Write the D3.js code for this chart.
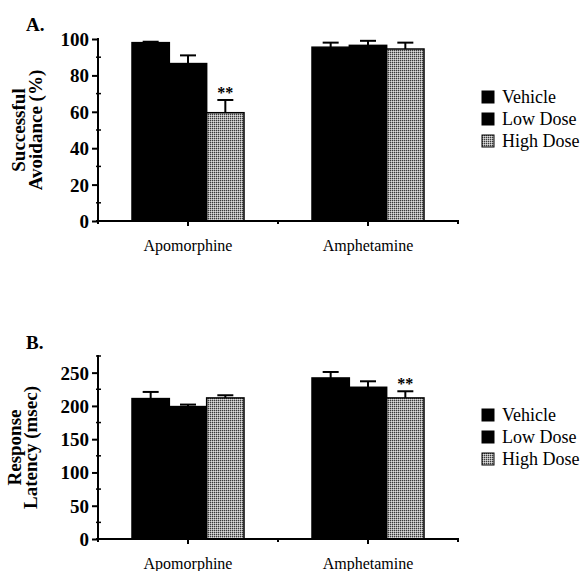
<!DOCTYPE html>
<html>
<head>
<meta charset="utf-8">
<script src="https://cdn.jsdelivr.net/npm/d3@7"></script>
<style>
body { margin: 0; background: #fff; }
svg { display: block; }
</style>
</head>
<body>
<svg id="svg"></svg>
<script>
var groups = ["Apomorphine", "Amphetamine"];
var doses = ["Vehicle", "Low Dose", "High Dose"];

// panel A: successful avoidance (%)
var avoidApo = [98, 86.5, 59.5];
var avoidApoErr = [0.5, 4.5, 7];
var avoidAmph = [95.5, 96.5, 94.5];
var avoidAmphErr = [2.5, 2.5, 3.5];
var avoidTicks = [0, 20, 40, 60, 80, 100];
var avoidMinor = [10, 30, 50, 70, 90];

// panel B: response latency (msec)
var latApo = [211, 199, 212];
var latApoErr = [10, 3, 4];
var latAmph = [242, 228, 212];
var latAmphErr = [9, 9, 10];
var latTicks = [0, 50, 100, 150, 200, 250];
var latMinor = [25, 75, 125, 175, 225, 275];

var width = 587, height = 571;
var svg = d3.select("#svg").attr("width", width).attr("height", height);

var defs = svg.append("defs");
var pat = defs.append("pattern").attr("id", "stipple")
    .attr("width", 2).attr("height", 2).attr("patternUnits", "userSpaceOnUse");
pat.append("rect").attr("width", 2).attr("height", 2).attr("fill", "#a8a8a8");
pat.append("rect").attr("width", 1).attr("height", 1).attr("fill", "#3a3a3a");
pat.append("rect").attr("x", 1).attr("y", 1).attr("width", 1).attr("height", 1).attr("fill", "#dcdcdc");

var fills = ["#000", "#000", "url(#stipple)"];
var serif = "'Liberation Serif', 'Times New Roman', serif";

function drawPanel(p)
{
    var g = svg.append("g");
    var y = d3.scaleLinear().domain(p.domain).range([p.y0, p.yTop]);
    var x = d3.scaleBand().domain(groups).range([98, 458]).padding(0);
    var inner = d3.scaleBand().domain(doses).range([-56, 56]).padding(0);

    // bars
    var rows = [];
    groups.forEach(function(grp, gi) {
        doses.forEach(function(d, di) {
            rows.push({grp: grp, dose: d, di: di, v: p.values[gi][di], e: p.errs[gi][di]});
        });
    });
    g.selectAll("rect.bar").data(rows).enter().append("rect")
        .attr("class", "bar")
        .attr("x", function(r) { return x(r.grp) + x.bandwidth() / 2 + inner(r.dose); })
        .attr("y", function(r) { return y(r.v); })
        .attr("width", inner.bandwidth())
        .attr("height", function(r) { return y(0) - y(r.v); })
        .attr("fill", function(r) { return fills[r.di]; })
        .attr("stroke", "#000").attr("stroke-width", 1.5);

    // error bars (upper only)
    var eb = g.selectAll("g.err").data(rows).enter().append("g")
        .attr("transform", function(r) {
            return "translate(" + (x(r.grp) + x.bandwidth() / 2 + inner(r.dose) + inner.bandwidth() / 2) + ",0)";
        });
    eb.append("line").attr("y1", function(r) { return y(r.v); })
        .attr("y2", function(r) { return y(r.v + r.e); })
        .attr("stroke", "#000").attr("stroke-width", 2);
    eb.append("line").attr("x1", -8).attr("x2", 8)
        .attr("y1", function(r) { return y(r.v + r.e); })
        .attr("y2", function(r) { return y(r.v + r.e); })
        .attr("stroke", "#000").attr("stroke-width", 2);

    // significance
    p.stars.forEach(function(s) {
        var gi = groups.indexOf(s[0]), di = doses.indexOf(s[1]);
        g.append("text")
            .attr("x", x(s[0]) + x.bandwidth() / 2 + inner(s[1]) + inner.bandwidth() / 2)
            .attr("y", y(p.values[gi][di] + p.errs[gi][di]) - 2)
            .attr("text-anchor", "middle")
            .attr("font-family", serif).attr("font-weight", "bold").attr("font-size", 16)
            .text("**");
    });

    // y axis
    var yAxis = g.append("g").attr("transform", "translate(98,0)")
        .call(d3.axisLeft(y).tickValues(p.ticks).tickSize(6).tickPadding(3));
    yAxis.select(".domain").remove();
    yAxis.selectAll(".tick line").attr("stroke-width", 2);
    yAxis.selectAll("text").attr("font-family", serif).attr("font-weight", "bold")
        .attr("font-size", 19).attr("dy", "0.34em");
    g.selectAll("line.minor").data(p.minor).enter().append("line")
        .attr("x1", 96).attr("x2", 101)
        .attr("y1", function(v) { return y(v); }).attr("y2", function(v) { return y(v); })
        .attr("stroke", "#000").attr("stroke-width", 1.5);
    g.append("line").attr("x1", 98).attr("x2", 98)
        .attr("y1", y(0) + 3).attr("y2", y(p.domain[1]) - 1)
        .attr("stroke", "#000").attr("stroke-width", 2);

    // x axis
    var xAxis = g.append("g").attr("transform", "translate(0," + y(0) + ")")
        .call(d3.axisBottom(x).tickSize(5).tickPadding(14));
    xAxis.select(".domain").remove();
    xAxis.selectAll(".tick line").attr("stroke-width", 2);
    xAxis.selectAll("text").attr("font-family", serif).attr("font-size", 16);
    g.append("line").attr("x1", 96).attr("x2", 459)
        .attr("y1", y(0)).attr("y2", y(0))
        .attr("stroke", "#000").attr("stroke-width", 2);
    g.selectAll("line.xminor").data(groups).enter().append("line")
        .attr("x1", function(grp) { return x(grp) + x.bandwidth(); })
        .attr("x2", function(grp) { return x(grp) + x.bandwidth(); })
        .attr("y1", y(0)).attr("y2", y(0) + 3)
        .attr("stroke", "#000").attr("stroke-width", 2);

    // panel letter
    g.append("text").attr("x", 26).attr("y", p.letterY)
        .attr("font-family", serif).attr("font-weight", "bold").attr("font-size", 19)
        .text(p.letter);

    // y title, two rotated lines
    var mid = (p.y0 + p.yTop) / 2;
    p.title.forEach(function(t, i) {
        g.append("text")
            .attr("transform", "translate(" + p.titleX[i] + "," + mid + ") rotate(-90)")
            .attr("text-anchor", "middle")
            .attr("font-family", serif).attr("font-weight", "bold").attr("font-size", 19)
            .text(t);
    });

    // legend
    var lg = g.selectAll("g.leg").data(doses).enter().append("g")
        .attr("transform", function(d, i) { return "translate(482," + (p.legendY + i * 22) + ")"; });
    lg.append("rect").attr("x", 0).attr("y", -6).attr("width", 12).attr("height", 12)
        .attr("fill", function(d, i) { return fills[i]; })
        .attr("stroke", "#000").attr("stroke-width", 1);
    lg.append("text").attr("x", 20).attr("y", 0).attr("dy", "0.35em")
        .attr("font-family", serif).attr("font-size", 18)
        .text(function(d) { return d; });
}

drawPanel({
    domain: [0, 100], y0: 221, yTop: 39,
    values: [avoidApo, avoidAmph], errs: [avoidApoErr, avoidAmphErr],
    ticks: avoidTicks, minor: avoidMinor,
    stars: [["Apomorphine", "High Dose"]],
    letter: "A.", letterY: 31,
    title: ["Successful", "Avoidance (%)"], titleX: [25, 42],
    legendY: 97
});

drawPanel({
    domain: [0, 275], y0: 539, yTop: 356,
    values: [latApo, latAmph], errs: [latApoErr, latAmphErr],
    ticks: latTicks, minor: latMinor,
    stars: [["Amphetamine", "High Dose"]],
    letter: "B.", letterY: 349,
    title: ["Response", "Latency (msec)"], titleX: [21, 37],
    legendY: 415
});
</script>
</body>
</html>
